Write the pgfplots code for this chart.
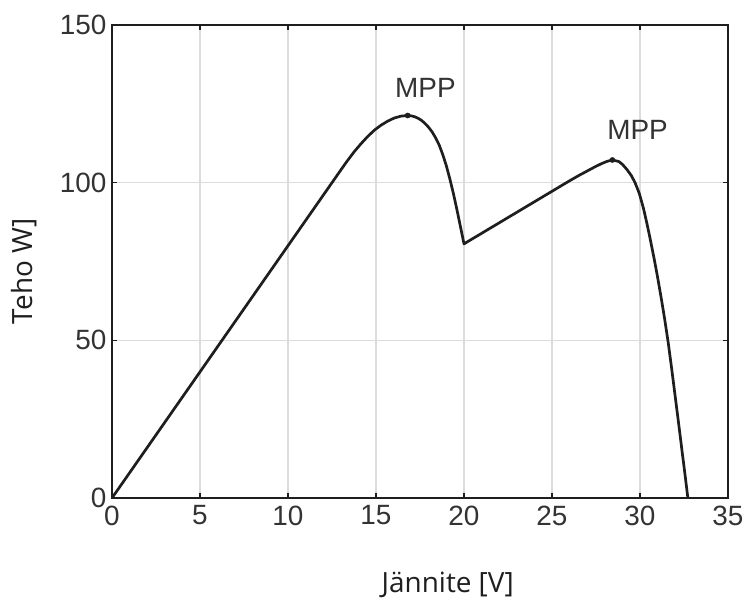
\documentclass[border=0pt]{standalone}
\usepackage{fontspec}
\setmainfont{Liberation Sans}
\newfontfamily\labelfont{Open Sans}
\usepackage{pgfplots}
\pgfplotsset{compat=1.18}
\definecolor{curve}{HTML}{1E1E1E}
\definecolor{gridgray}{HTML}{DCDCDC}
\definecolor{ticktext}{HTML}{333333}

% P-V curve of a partially shaded panel: two local maxima
\pgfplotstableread{
V P
0 0
4 32
8 64
10 80
12 96
13 104
13.38 107.0
13.76 109.8
14.14 112.3
14.52 114.6
14.9 116.6
15.28 118.2
15.66 119.5
16.04 120.5
16.42 121.1
16.8 121.3
17.0 121.2
17.2 120.9
17.4 120.4
17.6 119.7
17.8 118.7
18.0 117.5
18.2 116.0
18.4 114.1
18.6 111.8
18.8 108.8
19.0 105.3
19.2 101.1
19.4 96.5
19.6 91.4
19.8 86.0
20.0 80.6
23 90.6
26 100.6
26.5 102.2
27.0 103.7
27.4 104.9
27.8 106.0
28.1 106.7
28.43 107.2
28.8 106.7
29.0 105.8
29.24 104.3
29.5 102.3
29.72 100.0
29.96 96.6
30.2 91.8
30.4 86.9
30.6 81.6
30.8 76.0
31.0 70.0
31.2 63.6
31.4 56.8
31.6 49.4
31.8 41.0
32.0 32.2
32.2 23.4
32.4 14.4
32.56 7.3
32.72 0
}\pvdata

\begin{document}
\begin{tikzpicture}
\begin{axis}[
  scale only axis,
  width=616bp, height=473bp,
  xmin=0, xmax=35, ymin=0, ymax=150,
  xtick={0,5,...,35}, ytick={0,50,100,150},
  grid=major,
  major grid style={gridgray, line width=1.3bp},
  axis line style={line width=2.4bp, color=curve},
  tick align=inside,
  major tick length=5bp,
  tick style={line width=1.5bp, color=curve},
  /pgf/number format/assume math mode=true,
  ticklabel style={font=\fontsize{28}{28}\selectfont, color=ticktext},
  xticklabel style={yshift=-4bp},
  yticklabel style={xshift=-2bp},
  xlabel={Jännite [V]},
  ylabel={Teho W]},
  label style={font=\labelfont\fontsize{28}{28}\selectfont, color=curve},
  xlabel style={at={(axis description cs:0.545,-0.199)}, anchor=base},
  ylabel style={at={(axis description cs:-0.143,0.479)}, anchor=center},
  clip=false,
]
\addplot[curve, line width=2.7bp, line join=round] table[x=V, y=P] {\pvdata};
\addplot[only marks, mark=*, mark size=2.6bp, curve] coordinates {(16.8,121.3) (28.43,107.2)};
\node[anchor=base, font=\fontsize{28}{28}\selectfont, color=ticktext] at (axis cs:17.81,126.96) {MPP};
\node[anchor=base, font=\fontsize{28}{28}\selectfont, color=ticktext] at (axis cs:29.86,113.8) {MPP};
\end{axis}
\pgfresetboundingbox
\path ([shift={(-112bp,-103bp)}]current axis.south west) rectangle ([shift={(22bp,25bp)}]current axis.north east);
\end{tikzpicture}
\end{document}
